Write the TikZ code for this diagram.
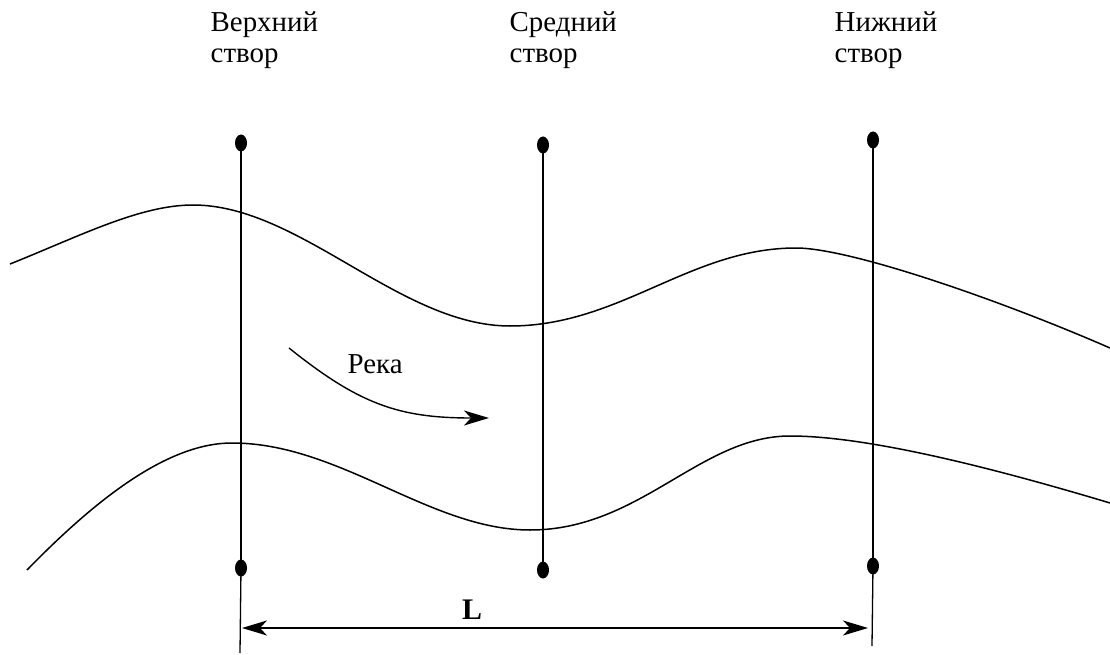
\documentclass[tikz,border=0pt]{standalone}
\usepackage{fontspec}
\setmainfont{Liberation Serif}
\usetikzlibrary{arrows.meta,shapes.geometric}
\begin{document}
\begin{tikzpicture}[x=1bp,y=-1bp,
  line width=1.4bp,
  >={Stealth[length=25bp,width=15bp,inset=7bp]},
  dot/.style={ellipse,fill=black,draw=none,minimum width=12bp,minimum height=17bp,inner sep=0pt},
  lbl/.style={font=\fontsize{29}{31}\selectfont,inner sep=0pt,anchor=base west},
  bank/.style={line width=1.5bp},
  section/.style={line width=1.9bp},
  ext/.style={line width=1.3bp}
]
\useasboundingbox (0,0) rectangle (1110,655);
% labels
\node[lbl] (l1a) at (210,32) {Верхний};
\node[lbl] (l1b) at (210,63) {створ};
\node[lbl] (l2a) at (509,32) {Средний};
\node[lbl] (l2b) at (509,63) {створ};
\node[lbl] (l3a) at (834,32) {Нижний};
\node[lbl] (l3b) at (834,63) {створ};
% dots
\node[dot] (t1) at (241,143) {};
\node[dot] (t2) at (543,145) {};
\node[dot] (t3) at (873,140) {};
\node[dot] (b1) at (241,568) {};
\node[dot] (b2) at (543,570) {};
\node[dot] (b3) at (873,566) {};
% section lines
\draw[section] (t1.center) -- (b1.center);
\draw[section] (t2.center) -- (b2.center);
\draw[section] (t3.center) -- (b3.center);
% extension lines
\coordinate (e1) at (240,653);
\coordinate (e3) at (872,646);
\draw[ext] (b1.center) -- (e1);
\draw[ext] (b3.center) -- (e3);
% river banks
\draw[bank] (10,264) .. controls (80,236) and (140,205) .. (193,205)
  .. controls (300,205) and (400,326) .. (510,326)
  .. controls (620,326) and (690,248) .. (796,248)
  .. controls (850,248) and (1000,300) .. (1110,348);
\draw[bank] (27,570) .. controls (100,495) and (170,443) .. (232,443)
  .. controls (340,443) and (430,530) .. (530,530)
  .. controls (640,530) and (700,436) .. (790,436)
  .. controls (870,436) and (1000,470) .. (1110,503);
% flow arrow
\coordinate (f1) at (289,348);
\coordinate (f2) at (489,418);
\draw[->] (f1) .. controls (360,405) and (400,418) .. (f2);
\node[lbl] (reka) at (347,373) {Река};
% dimension
\coordinate (d1) at (242,628);
\coordinate (d2) at (868,628);
\draw[<->] (d1) -- (d2);
\node[font=\fontsize{30}{31}\selectfont\bfseries,inner sep=0pt,anchor=base] (L) at (472,619) {L};
\end{tikzpicture}
\end{document}
